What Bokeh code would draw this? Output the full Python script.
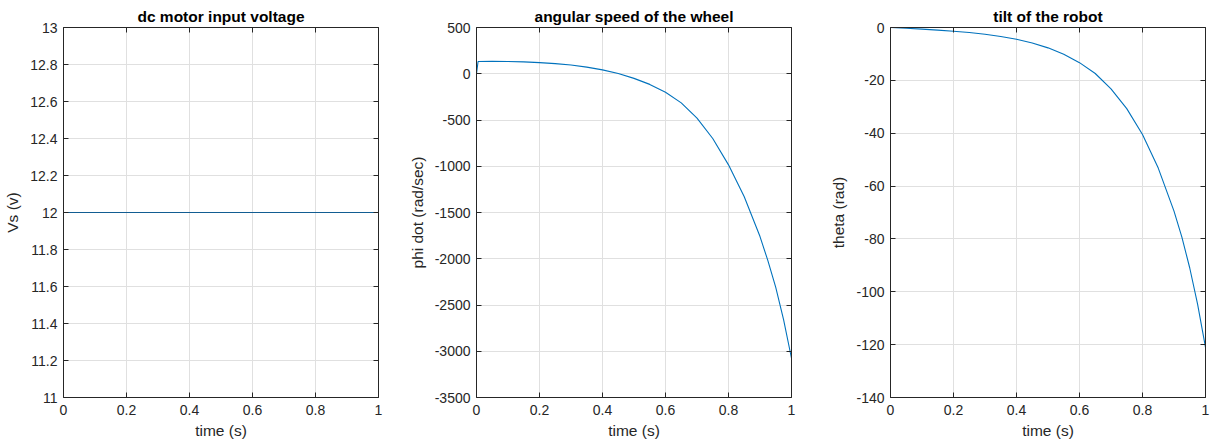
from bokeh.plotting import figure
from bokeh.models import LinearAxis, FixedTicker, NumeralTickFormatter, Range1d, CustomJSTickFormatter
from bokeh.layouts import row
from bokeh.embed import file_html
from bokeh.resources import INLINE

# ---- data ----
t_vs = [0.0, 1.0]
vs = [12.0, 12.0]

t_phi = [0.0, 0.005, 0.05, 0.1, 0.15, 0.2, 0.25, 0.3, 0.35, 0.4, 0.45, 0.5,
         0.55, 0.6, 0.65, 0.7, 0.75, 0.8, 0.85, 0.9, 0.925, 0.95, 0.975, 1.0]
phi_dot = [0, 133, 135, 133, 128, 120, 109, 94, 72, 42, 2, -50,
           -115, -200, -315, -480, -700, -985, -1330, -1760, -2020, -2310,
           -2660, -3075]

t_theta = [0.0, 0.05, 0.1, 0.15, 0.2, 0.25, 0.3, 0.35, 0.4, 0.45, 0.5,
           0.55, 0.6, 0.65, 0.7, 0.75, 0.8, 0.85, 0.9, 0.925, 0.95, 0.975, 1.0]
theta = [0, -0.3, -0.62, -0.98, -1.4, -1.9, -2.55, -3.4, -4.45, -5.85, -7.7,
         -10.1, -13.3, -17.4, -23.2, -30.7, -40.5, -53.2, -69.5, -79.3, -91.0,
         -104.8, -121.0]

x_ticks = [0, 0.2, 0.4, 0.6, 0.8, 1.0]
vs_ticks = [11, 11.2, 11.4, 11.6, 11.8, 12, 12.2, 12.4, 12.6, 12.8, 13]
phi_ticks = [-3500, -3000, -2500, -2000, -1500, -1000, -500, 0, 500]
theta_ticks = [-140, -120, -100, -80, -60, -40, -20, 0]

titles = ["dc motor input voltage", "angular speed of the wheel", "tilt of the robot"]
ylabels = ["Vs (v)", "phi dot (rad/sec)", "theta (rad)"]
xlabel = "time (s)"

FONT = "Liberation Sans"
AX = "#262626"
GRID = "#e0e0e0"


def style_axis(ax, ticker, fmt, show_labels=True):
    ax.ticker = FixedTicker(ticks=ticker)
    ax.axis_line_color = AX
    ax.axis_line_width = 1
    ax.major_tick_line_color = AX
    ax.major_tick_in = 5
    ax.major_tick_out = 0
    ax.minor_tick_line_color = None
    ax.major_label_text_font = FONT
    ax.major_label_text_color = AX
    ax.major_label_text_font_size = "14px"
    if show_labels:
        ax.formatter = NumeralTickFormatter(format=fmt)
        ax.major_label_standoff = 6
    else:
        ax.formatter = CustomJSTickFormatter(code="return ''")
        ax.major_label_standoff = 0
    ax.axis_label_text_font = FONT
    ax.axis_label_text_font_size = "15.5px"
    ax.axis_label_text_font_style = "normal"
    ax.axis_label_text_color = AX
    ax.axis_label_standoff = 6


def panel(title, ylabel, xs, ys, yr, yt, yfmt, color, lw, left, right):
    p = figure(frame_width=315, frame_height=370, output_backend="svg",
               toolbar_location=None, x_range=Range1d(0, 1),
               y_range=Range1d(*yr), min_border_left=left,
               min_border_right=right, min_border_top=27, min_border_bottom=10)
    p.line(xs, ys, line_color=color, line_width=lw)
    p.title.text = title
    p.title.text_font = FONT
    p.title.text_font_size = "15.5px"
    p.title.text_font_style = "bold"
    p.title.text_color = "#000000"
    p.title.align = "center"
    p.title.standoff = 5
    p.outline_line_color = None
    p.background_fill_color = "white"
    p.border_fill_color = "white"
    style_axis(p.xaxis[0], x_ticks, "0.[0]")
    style_axis(p.yaxis[0], yt, yfmt)
    p.xaxis[0].axis_label = xlabel
    p.xaxis[0].major_label_standoff = 7
    p.xaxis[0].axis_label_standoff = 4
    p.yaxis[0].axis_label = ylabel
    top = LinearAxis()
    style_axis(top, x_ticks, "0.[0]", show_labels=False)
    p.add_layout(top, "above")
    rgt = LinearAxis()
    style_axis(rgt, yt, yfmt, show_labels=False)
    p.add_layout(rgt, "right")
    p.xgrid.ticker = FixedTicker(ticks=x_ticks)
    p.ygrid.ticker = FixedTicker(ticks=yt)
    p.xgrid.grid_line_color = GRID
    p.ygrid.grid_line_color = GRID
    return p


p1 = panel(titles[0], ylabels[0], t_vs, vs, (11, 13), vs_ticks, "0.[0]",
           "#125d92", 1.2, 63, 20)
p2 = panel(titles[1], ylabels[1], t_phi, phi_dot, (-3500, 500), phi_ticks, "0",
           "#0072BD", 1.1, 78, 20)
p3 = panel(titles[2], ylabels[2], t_theta, theta, (-140, 0), theta_ticks, "0",
           "#0072BD", 1.1, 79, 17)

layout = row(p1, p2, p3)
open("out.html", "w").write(file_html(layout, INLINE))
